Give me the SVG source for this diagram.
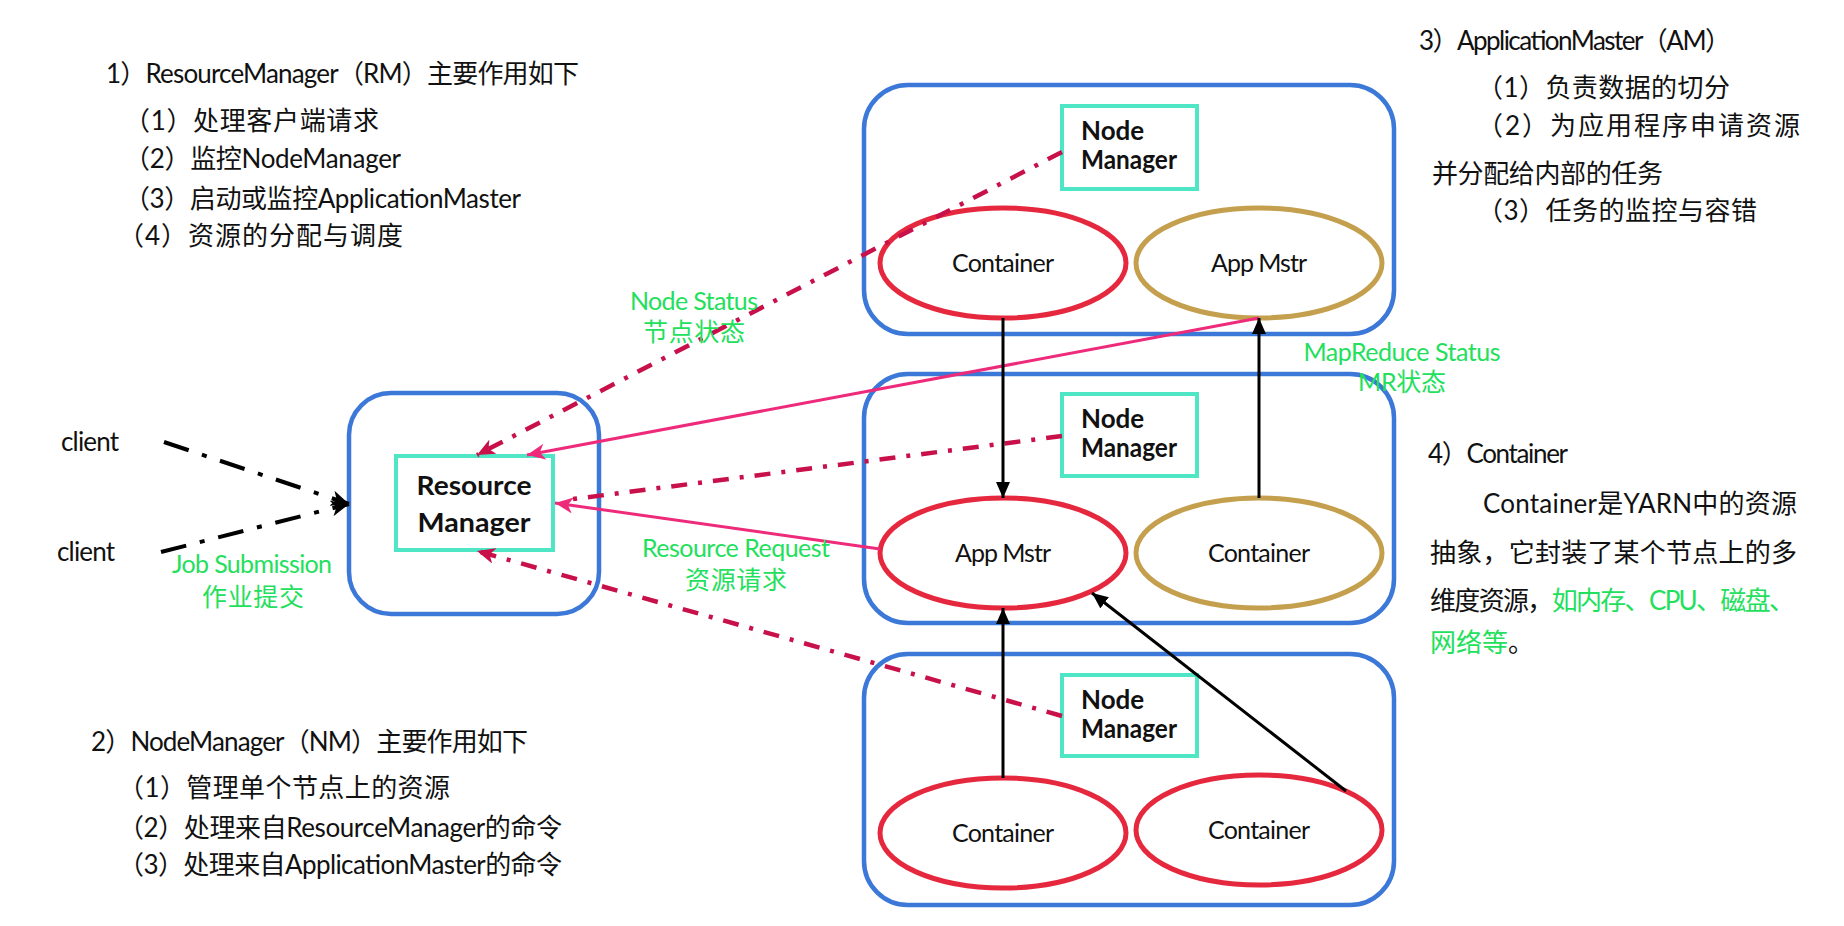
<svg xmlns="http://www.w3.org/2000/svg" width="1844" height="926" viewBox="0 0 1844 926">
<defs>
<style>
.t{font-family:Lato,"Noto Sans CJK SC",sans-serif;font-size:26px;fill:#111}
.g{font-family:Lato,"Noto Sans CJK SC",sans-serif;font-size:25px;fill:#22e05c}
.nm{font-family:Lato,"Noto Sans CJK SC",sans-serif;font-size:26px;font-weight:bold;fill:#111}
.el{font-family:Lato,"Noto Sans CJK SC",sans-serif;font-size:25px;fill:#111;text-anchor:middle}
.box{fill:none;stroke:#3c78d8;stroke-width:4.5}
.cy{fill:#fff;stroke:#4ee6c4;stroke-width:4}
.red{fill:#fff;stroke:#e6283e;stroke-width:5}
.gold{fill:#fff;stroke:#c4a04e;stroke-width:5}
.dd{fill:none;stroke:#c8104a;stroke-width:4.5;stroke-dasharray:16 11 4 11}
.pk{fill:none;stroke:#ee2a7b;stroke-width:3}
.bk{fill:none;stroke:#000;stroke-width:3}
.cl{fill:none;stroke:#000;stroke-width:4;stroke-dasharray:26 14 5 14}
</style>
<marker id="aBk" markerUnits="userSpaceOnUse" markerWidth="18" markerHeight="14" refX="16" refY="7" orient="auto"><path d="M0,0 L16,7 L0,14 Z" fill="#000"/></marker>
<marker id="aPk" markerUnits="userSpaceOnUse" markerWidth="20" markerHeight="16" refX="18" refY="8" orient="auto"><path d="M0,0 L18,8 L0,16 L5,8 Z" fill="#ee2a7b"/></marker>
<marker id="aDd" markerUnits="userSpaceOnUse" markerWidth="20" markerHeight="16" refX="18" refY="8" orient="auto"><path d="M0,0 L18,8 L0,16 L5,8 Z" fill="#c8104a"/></marker>
<marker id="aCl" markerUnits="userSpaceOnUse" markerWidth="20" markerHeight="16" refX="18" refY="8" orient="auto"><path d="M0,0 L18,8 L0,16 L5,8 Z" fill="#000"/></marker>
</defs>
<rect width="1844" height="926" fill="#fff"/>

<g id="text-rm">
<text class="t" x="106" y="83" textLength="473">1）ResourceManager（RM）主要作用如下</text>
<text class="t" x="124" y="130" textLength="255">（1）处理客户端请求</text>
<text class="t" x="124" y="168" textLength="277">（2）监控NodeManager</text>
<text class="t" x="124" y="208" textLength="397">（3）启动或监控ApplicationMaster</text>
<text class="t" x="118" y="245" textLength="285">（4）资源的分配与调度</text>
</g>
<g id="text-nm">
<text class="t" x="91" y="751" textLength="437">2）NodeManager（NM）主要作用如下</text>
<text class="t" x="118" y="797" textLength="332">（1）管理单个节点上的资源</text>
<text class="t" x="118" y="837" textLength="444">（2）处理来自ResourceManager的命令</text>
<text class="t" x="118" y="874" textLength="444">（3）处理来自ApplicationMaster的命令</text>
</g>
<g id="text-am">
<text class="t" x="1419" y="50" textLength="312">3）ApplicationMaster（AM）</text>
<text class="t" x="1477" y="97" textLength="253">（1）负责数据的切分</text>
<text class="t" x="1477" y="135" textLength="323">（2）为应用程序申请资源</text>
<text class="t" x="1432" y="183" textLength="231">并分配给内部的任务</text>
<text class="t" x="1477" y="220" textLength="280">（3）任务的监控与容错</text>
</g>
<g id="text-container">
<text class="t" x="1428" y="463" textLength="140">4）Container</text>
<text class="t" x="1483" y="513" textLength="314">Container是YARN中的资源</text>
<text class="t" x="1430" y="562" textLength="367">抽象，它封装了某个节点上的多</text>
<text class="t" x="1430" y="610" textLength="365">维度资源，<tspan fill="#22e05c">如内存、CPU、磁盘、</tspan></text>
<text class="t" x="1430" y="652"><tspan fill="#22e05c">网络等</tspan>。</text>
</g>

<g id="client1"><text class="t" x="61" y="451" font-size="24" textLength="58">client</text></g>
<g id="client2"><text class="t" x="57" y="561" font-size="24" textLength="58">client</text></g>

<g id="resource-manager">
<rect class="box" x="349" y="393" width="250" height="221" rx="42"/>
<rect class="cy" x="396" y="456" width="157" height="94"/>
<text class="nm" x="474" y="495" font-size="32" text-anchor="middle" textLength="115" lengthAdjust="spacingAndGlyphs">Resource</text>
<text class="nm" x="474" y="532" font-size="32" text-anchor="middle" textLength="113" lengthAdjust="spacingAndGlyphs">Manager</text>
</g>

<g id="node1">
<rect class="box" x="864" y="85" width="530" height="249" rx="44"/>
<rect class="cy" x="1062" y="106" width="135" height="83"/>
<text class="nm" x="1081" y="140">Node</text>
<text class="nm" x="1081" y="169" textLength="96" lengthAdjust="spacingAndGlyphs">Manager</text>
<ellipse class="red" cx="1003" cy="263" rx="123" ry="55"/>
<text class="el" x="1003" y="272" textLength="102">Container</text>
<ellipse class="gold" cx="1259" cy="263" rx="123" ry="55"/>
<text class="el" x="1259" y="272" textLength="96">App Mstr</text>
</g>

<g id="node2">
<rect class="box" x="864" y="374" width="530" height="249" rx="44"/>
<rect class="cy" x="1062" y="394" width="135" height="82"/>
<text class="nm" x="1081" y="428">Node</text>
<text class="nm" x="1081" y="457" textLength="96" lengthAdjust="spacingAndGlyphs">Manager</text>
<ellipse class="red" cx="1003" cy="553" rx="123" ry="55"/>
<text class="el" x="1003" y="562" textLength="96">App Mstr</text>
<ellipse class="gold" cx="1259" cy="553" rx="123" ry="55"/>
<text class="el" x="1259" y="562" textLength="102">Container</text>
</g>

<g id="node3">
<rect class="box" x="864" y="654" width="530" height="251" rx="44"/>
<rect class="cy" x="1062" y="675" width="135" height="81"/>
<text class="nm" x="1081" y="709">Node</text>
<text class="nm" x="1081" y="738" textLength="96" lengthAdjust="spacingAndGlyphs">Manager</text>
<ellipse class="red" cx="1003" cy="833" rx="123" ry="55"/>
<text class="el" x="1003" y="842" textLength="102">Container</text>
<ellipse class="red" cx="1259" cy="830" rx="123" ry="55"/>
<text class="el" x="1259" y="839" textLength="102">Container</text>
</g>

<g id="connectors">
<line class="cl" x1="164" y1="442" x2="349" y2="504" marker-end="url(#aCl)"/>
<line class="cl" x1="161" y1="552" x2="349" y2="504" marker-end="url(#aCl)"/>
<line class="dd" x1="1062" y1="152" x2="477" y2="455" marker-end="url(#aDd)"/>
<line class="dd" x1="1062" y1="436" x2="566" y2="500"/>
<line class="dd" x1="1062" y1="716" x2="477" y2="551" marker-end="url(#aDd)"/>
<line class="pk" x1="1259" y1="318" x2="527" y2="455" marker-end="url(#aPk)"/>
<line class="pk" x1="880" y1="549" x2="555" y2="503" marker-end="url(#aPk)"/>
<line class="bk" x1="1003" y1="318" x2="1003" y2="498" marker-end="url(#aBk)"/>
<line class="bk" x1="1259" y1="498" x2="1259" y2="318" marker-end="url(#aBk)"/>
<line class="bk" x1="1003" y1="778" x2="1003" y2="608" marker-end="url(#aBk)"/>
<line class="bk" x1="1346" y1="791" x2="1092" y2="593" marker-end="url(#aBk)"/>
</g>

<g id="labels">
<text class="g" x="252" y="573" text-anchor="middle" textLength="160">Job Submission</text>
<text class="g" x="253" y="606" text-anchor="middle" textLength="102">作业提交</text>
<text class="g" x="694" y="310" text-anchor="middle" textLength="128">Node Status</text>
<text class="g" x="694" y="341" text-anchor="middle" textLength="102">节点状态</text>
<text class="g" x="736" y="557" text-anchor="middle" textLength="188">Resource Request</text>
<text class="g" x="736" y="589" text-anchor="middle" textLength="102">资源请求</text>
<text class="g" x="1402" y="361" text-anchor="middle" textLength="197">MapReduce Status</text>
<text class="g" x="1402" y="391" text-anchor="middle" textLength="88">MR状态</text>
</g>
</svg>
